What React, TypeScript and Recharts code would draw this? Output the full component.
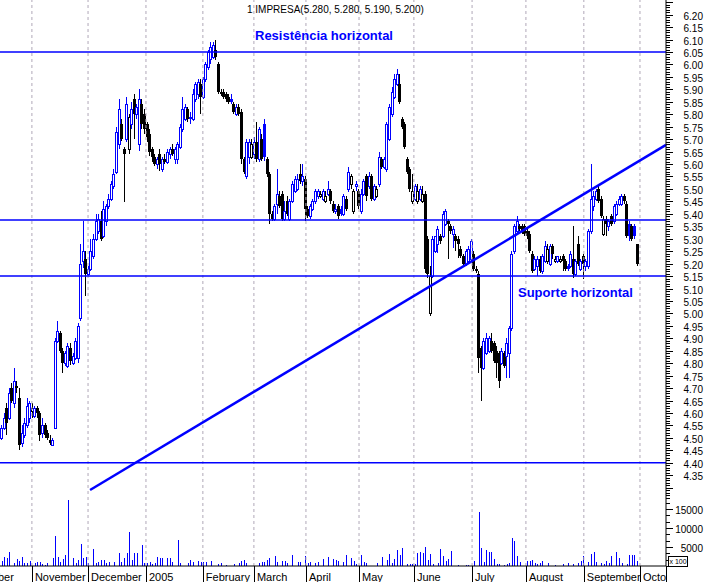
import React from 'react';
import { ComposedChart, Bar, XAxis, YAxis, ReferenceLine } from 'recharts';

// daily candles, [open, high, low, close], Oct 2004 .. Sep 2005
const ohlc: [number, number, number, number][] = [
  [4.50, 4.55, 4.49, 4.54], [4.54, 4.60, 4.53, 4.58], [4.62, 4.64, 4.51, 4.56], [4.58, 4.70, 4.57, 4.68],
  [4.70, 4.72, 4.64, 4.65], [4.64, 4.78, 4.62, 4.73], [4.71, 4.73, 4.68, 4.70], [4.66, 4.70, 4.45, 4.47],
  [4.48, 4.55, 4.46, 4.52], [4.51, 4.58, 4.50, 4.56], [4.55, 4.66, 4.54, 4.63], [4.58, 4.65, 4.56, 4.64],
  [4.61, 4.64, 4.58, 4.62], [4.59, 4.63, 4.58, 4.62], [4.62, 4.63, 4.58, 4.60], [4.60, 4.61, 4.49, 4.51],
  [4.52, 4.58, 4.50, 4.55], [4.55, 4.56, 4.50, 4.51], [4.52, 4.53, 4.49, 4.50], [4.49, 4.51, 4.47, 4.48],
  [4.47, 4.50, 4.47, 4.49], [4.54, 4.90, 4.54, 4.89], [4.89, 4.97, 4.88, 4.93], [4.92, 4.93, 4.84, 4.85],
  [4.85, 4.86, 4.76, 4.80], [4.80, 4.85, 4.79, 4.84], [4.79, 4.88, 4.78, 4.87], [4.86, 4.88, 4.79, 4.81],
  [4.80, 4.84, 4.79, 4.83], [4.82, 4.90, 4.81, 4.89], [4.82, 4.96, 4.80, 4.95], [4.98, 5.28, 4.97, 5.20],
  [5.21, 5.37, 5.18, 5.25], [5.22, 5.25, 5.07, 5.16], [5.16, 5.19, 5.15, 5.18], [5.18, 5.30, 5.17, 5.25],
  [5.23, 5.32, 5.22, 5.30], [5.30, 5.40, 5.29, 5.37], [5.33, 5.40, 5.32, 5.38], [5.37, 5.41, 5.29, 5.30],
  [5.31, 5.45, 5.30, 5.42], [5.37, 5.44, 5.35, 5.43], [5.43, 5.48, 5.42, 5.46], [5.46, 5.53, 5.45, 5.52],
  [5.51, 5.58, 5.50, 5.56], [5.57, 5.75, 5.56, 5.73], [5.68, 5.86, 5.66, 5.82], [5.76, 5.78, 5.69, 5.70],
  [5.66, 5.67, 5.45, 5.64], [5.70, 5.87, 5.69, 5.84], [5.66, 5.80, 5.64, 5.79], [5.76, 5.85, 5.74, 5.82],
  [5.86, 5.88, 5.70, 5.80], [5.80, 5.84, 5.78, 5.83], [5.68, 5.90, 5.65, 5.86], [5.84, 5.86, 5.74, 5.76],
  [5.80, 5.82, 5.72, 5.74], [5.76, 5.77, 5.69, 5.71], [5.72, 5.74, 5.63, 5.65], [5.66, 5.67, 5.61, 5.63],
  [5.63, 5.64, 5.59, 5.60], [5.60, 5.63, 5.58, 5.62], [5.64, 5.66, 5.57, 5.60], [5.58, 5.63, 5.57, 5.62],
  [5.62, 5.64, 5.60, 5.61], [5.61, 5.66, 5.60, 5.65], [5.64, 5.67, 5.62, 5.66], [5.66, 5.68, 5.63, 5.64],
  [5.62, 5.67, 5.60, 5.66], [5.62, 5.69, 5.60, 5.68], [5.67, 5.76, 5.66, 5.75], [5.74, 5.87, 5.73, 5.82],
  [5.78, 5.84, 5.77, 5.83], [5.82, 5.83, 5.77, 5.78], [5.79, 5.81, 5.76, 5.78], [5.78, 5.90, 5.77, 5.88],
  [5.86, 5.93, 5.85, 5.92], [5.88, 5.94, 5.86, 5.93], [5.92, 5.94, 5.80, 5.87], [5.87, 5.95, 5.86, 5.94],
  [5.94, 6.01, 5.93, 6.00], [5.99, 6.06, 5.98, 6.05], [6.02, 6.09, 6.00, 6.07], [6.03, 6.09, 6.02, 6.08],
  [6.06, 6.10, 6.02, 6.03], [6.00, 6.01, 5.88, 5.89], [5.89, 5.90, 5.87, 5.88], [5.89, 5.90, 5.86, 5.87],
  [5.88, 5.89, 5.85, 5.86], [5.87, 5.88, 5.84, 5.85], [5.86, 5.88, 5.84, 5.85], [5.84, 5.85, 5.80, 5.81],
  [5.80, 5.84, 5.79, 5.83], [5.83, 5.84, 5.79, 5.80], [5.81, 5.82, 5.60, 5.62], [5.62, 5.63, 5.56, 5.57],
  [5.55, 5.70, 5.54, 5.69], [5.63, 5.70, 5.60, 5.69], [5.63, 5.70, 5.62, 5.68], [5.64, 5.71, 5.62, 5.69],
  [5.69, 5.77, 5.61, 5.62], [5.62, 5.75, 5.61, 5.74], [5.70, 5.72, 5.61, 5.62], [5.76, 5.78, 5.61, 5.63],
  [5.62, 5.63, 5.55, 5.56], [5.56, 5.57, 5.36, 5.40], [5.40, 5.41, 5.37, 5.38], [5.38, 5.44, 5.37, 5.43],
  [5.44, 5.58, 5.40, 5.48], [5.47, 5.49, 5.42, 5.43], [5.48, 5.49, 5.37, 5.38], [5.38, 5.45, 5.37, 5.41],
  [5.45, 5.47, 5.39, 5.40], [5.38, 5.46, 5.37, 5.45], [5.45, 5.53, 5.44, 5.52], [5.49, 5.55, 5.48, 5.54],
  [5.50, 5.56, 5.49, 5.54], [5.56, 5.60, 5.52, 5.53], [5.53, 5.60, 5.51, 5.55], [5.54, 5.55, 5.37, 5.42],
  [5.42, 5.43, 5.38, 5.39], [5.39, 5.44, 5.38, 5.43], [5.42, 5.46, 5.41, 5.45], [5.45, 5.50, 5.44, 5.49],
  [5.47, 5.50, 5.46, 5.49], [5.47, 5.49, 5.46, 5.48], [5.46, 5.50, 5.45, 5.49], [5.45, 5.49, 5.44, 5.47],
  [5.48, 5.53, 5.47, 5.50], [5.49, 5.50, 5.44, 5.45], [5.44, 5.45, 5.40, 5.41], [5.41, 5.44, 5.40, 5.42],
  [5.43, 5.44, 5.38, 5.39], [5.42, 5.43, 5.39, 5.40], [5.40, 5.48, 5.39, 5.47], [5.46, 5.47, 5.41, 5.42],
  [5.50, 5.59, 5.49, 5.57], [5.52, 5.56, 5.50, 5.55], [5.41, 5.50, 5.40, 5.49], [5.51, 5.53, 5.49, 5.52],
  [5.49, 5.50, 5.42, 5.43], [5.41, 5.50, 5.40, 5.48], [5.48, 5.54, 5.47, 5.53], [5.55, 5.56, 5.45, 5.47],
  [5.51, 5.57, 5.50, 5.55], [5.55, 5.56, 5.45, 5.46], [5.46, 5.52, 5.45, 5.51], [5.47, 5.51, 5.46, 5.50],
  [5.52, 5.65, 5.51, 5.63], [5.62, 5.63, 5.58, 5.59], [5.59, 5.63, 5.58, 5.62], [5.58, 5.77, 5.57, 5.76],
  [5.70, 5.84, 5.69, 5.83], [5.80, 5.91, 5.79, 5.89], [5.87, 5.96, 5.86, 5.94], [5.92, 5.98, 5.91, 5.96],
  [5.92, 5.96, 5.84, 5.85], [5.78, 5.79, 5.74, 5.75], [5.76, 5.77, 5.66, 5.67], [5.62, 5.63, 5.56, 5.57],
  [5.58, 5.59, 5.49, 5.50], [5.45, 5.56, 5.44, 5.49], [5.46, 5.52, 5.45, 5.51], [5.45, 5.52, 5.44, 5.49],
  [5.46, 5.51, 5.45, 5.50], [5.45, 5.51, 5.44, 5.48], [5.48, 5.49, 5.16, 5.18], [5.30, 5.31, 5.14, 5.16],
  [5.00, 5.19, 4.99, 5.15], [5.15, 5.31, 5.14, 5.30], [5.25, 5.31, 5.24, 5.31], [5.28, 5.35, 5.24, 5.34],
  [5.31, 5.32, 5.28, 5.29], [5.31, 5.41, 5.30, 5.40], [5.36, 5.42, 5.35, 5.41], [5.37, 5.38, 5.22, 5.36],
  [5.35, 5.36, 5.32, 5.33], [5.32, 5.35, 5.26, 5.34], [5.31, 5.32, 5.25, 5.29], [5.30, 5.31, 5.22, 5.28],
  [5.26, 5.27, 5.22, 5.23], [5.23, 5.24, 5.19, 5.20], [5.20, 5.26, 5.19, 5.25], [5.21, 5.27, 5.20, 5.26],
  [5.22, 5.30, 5.21, 5.29], [5.24, 5.25, 5.17, 5.18], [5.18, 5.19, 5.16, 5.17], [5.16, 5.17, 4.76, 4.82],
  [4.86, 4.87, 4.65, 4.78], [4.78, 4.90, 4.77, 4.89], [4.84, 4.92, 4.83, 4.90], [4.85, 4.91, 4.84, 4.90],
  [4.89, 4.92, 4.84, 4.85], [4.88, 4.89, 4.80, 4.81], [4.85, 4.87, 4.74, 4.80], [4.84, 4.85, 4.70, 4.73],
  [4.80, 4.86, 4.79, 4.85], [4.84, 4.85, 4.78, 4.79], [4.83, 4.90, 4.74, 4.88], [4.84, 4.95, 4.74, 4.94],
  [4.94, 5.25, 4.93, 5.24], [5.25, 5.36, 5.24, 5.35], [5.33, 5.39, 5.32, 5.37], [5.35, 5.36, 5.33, 5.34],
  [5.35, 5.36, 5.32, 5.33], [5.35, 5.36, 5.31, 5.32], [5.33, 5.34, 5.30, 5.31], [5.32, 5.33, 5.24, 5.25],
  [5.24, 5.25, 5.16, 5.17], [5.18, 5.23, 5.17, 5.22], [5.19, 5.23, 5.15, 5.22], [5.22, 5.23, 5.16, 5.17],
  [5.17, 5.24, 5.16, 5.23], [5.21, 5.29, 5.20, 5.27], [5.21, 5.28, 5.20, 5.26], [5.20, 5.28, 5.19, 5.27],
  [5.27, 5.28, 5.22, 5.24], [5.21, 5.23, 5.20, 5.22], [5.21, 5.23, 5.20, 5.23], [5.21, 5.23, 5.20, 5.22],
  [5.23, 5.24, 5.17, 5.21], [5.21, 5.22, 5.17, 5.18], [5.19, 5.20, 5.17, 5.18], [5.19, 5.25, 5.18, 5.24],
  [5.22, 5.35, 5.14, 5.16], [5.16, 5.22, 5.15, 5.21], [5.28, 5.31, 5.19, 5.20], [5.18, 5.22, 5.17, 5.21],
  [5.23, 5.24, 5.14, 5.20], [5.19, 5.22, 5.17, 5.21], [5.19, 5.34, 5.18, 5.33], [5.33, 5.60, 5.32, 5.46],
  [5.43, 5.49, 5.41, 5.47], [5.46, 5.50, 5.45, 5.49], [5.50, 5.51, 5.44, 5.45], [5.46, 5.47, 5.38, 5.39],
  [5.32, 5.39, 5.31, 5.38], [5.38, 5.39, 5.31, 5.36], [5.35, 5.38, 5.33, 5.37], [5.39, 5.40, 5.35, 5.36],
  [5.37, 5.44, 5.36, 5.43], [5.40, 5.45, 5.39, 5.44], [5.44, 5.47, 5.43, 5.46], [5.44, 5.48, 5.43, 5.47],
  [5.47, 5.48, 5.44, 5.45], [5.44, 5.45, 5.30, 5.31], [5.36, 5.37, 5.29, 5.31], [5.35, 5.36, 5.29, 5.30],
  [5.35, 5.36, 5.30, 5.31], [5.28, 5.28, 5.19, 5.20],
];

// volume in hundreds of shares
const volumes = [
  1400, 2300, 2000, 3700, 0, 900, 1750, 1400, 2500, 880, 700, 1300, 0, 880, 1140, 1000, 530, 260, 700, 0,
  2000, 7900, 2500, 1140, 1750, 2900, 18000, 0, 2000, 700, 1580, 5800, 2000, 2300, 700, 0, 4500, 700, 1140, 1580,
  1580, 700, 1140, 0, 1050, 0, 3300, 1140, 2000, 3300, 8900, 1580, 3300, 3300, 0, 5500, 700, 700, 960, 530,
  700, 2500, 2000, 2000, 0, 2000, 2000, 1140, 0, 6800, 700, 0, 0, 700, 1580, 1140, 0, 1300, 1140, 960,
  1140, 0, 1300, 0, 0, 440, 700, 0, 260, 0, 0, 530, 0, 880, 1300, 1580, 880, 0, 0, 0,
  0, 880, 1140, 960, 1580, 2000, 0, 2600, 1140, 0, 1300, 1300, 880, 0, 2900, 0, 1140, 1140, 0, 2600,
  880, 1140, 0, 880, 1140, 0, 1750, 0, 2500, 0, 1750, 1580, 1400, 0, 1140, 2900, 0, 2000, 1300, 600,
  0, 2900, 1140, 700, 0, 0, 0, 880, 0, 2300, 0, 1580, 3200, 700, 1850, 4200, 2900, 4800, 0, 530,
  530, 530, 440, 3500, 3800, 3500, 5100, 1580, 3200, 530, 0, 880, 4500, 2700, 1300, 1750, 3900, 0, 0, 260,
  0, 0, 260, 260, 0, 1400, 0, 14300, 4800, 1140, 4200, 3800, 3800, 1750, 440, 440, 0, 260, 440, 880,
  7400, 6600, 2600, 1140, 0, 0, 1400, 1300, 1580, 700, 530, 880, 1400, 0, 700, 0, 0, 350, 0, 0,
  530, 0, 700, 0, 530, 0, 880, 1400, 2600, 0, 1140, 3200, 3700, 1140, 0, 700, 530, 1300, 880, 2600,
  0, 3700, 2000, 700, 0, 530, 2900, 2900, 2900, 1300,
];

// month boundaries in bar units, and their labels
const monthStarts = [12, 34, 56.7, 79, 99, 119.4, 140.2, 161.7, 184.5, 205.6, 228.3, 250.3];
const monthLabels = ['November', 'December', '2005', 'February', 'March', 'April', 'May', 'June', 'July', 'August', 'September', 'October'];

const priceLabels = [
  6.20, 6.15, 6.10, 6.05, 6.00, 5.95, 5.90, 5.85, 5.80, 5.75, 5.70, 5.65, 5.60, 5.55, 5.50, 5.45, 5.40, 5.35, 5.30,
  5.25, 5.20, 5.15, 5.10, 5.05, 5.00, 4.95, 4.90, 4.85, 4.80, 4.75, 4.70, 4.65, 4.60, 4.55, 4.50, 4.45, 4.40, 4.35,
];
const volumeLabels = [5000, 10000, 15000];

// drawn support / resistance levels and the rising trend line
const levels = [6.05, 5.375, 5.15, 4.40];
const trendLine = [{ x: 34.8, y: 4.291 }, { x: 260.5, y: 5.677 }];

const PMIN = 4.2508;
const PMAX = 6.2588;
const VMAX = 17370;
const XDOMAIN: [number, number] = [-0.5, 260.5];
const PLOT_RIGHT = 666;
const BLUE = '#0000ff';
const GRID = '#b0a8b8';
const FONT = '"Liberation Sans", Arial, sans-serif';

const bars = ohlc.map(([o, h, l, c], i) => ({
  i, o, h, l, c,
  prev: i > 0 ? ohlc[i - 1][3] : o,
  vol: volumes[i],
}));

const priceTicks: number[] = [];
for (let k = 426; k <= 625; k++) priceTicks.push(k / 100);
const volumeTicks: number[] = [];
for (let k = 0; k <= 10; k++) volumeTicks.push((k * 5000) / 3);

const Candle = (props: any) => {
  const { x, y, width, height, payload } = props;
  if (!payload || x == null) return null;
  const { o, h, l, c, prev } = payload;
  const top = Math.min(y, y + height);
  const span = Math.abs(height);
  const k = h > l ? span / (h - l) : 0;
  const py = (v: number) => top + (h - v) * k;
  const cx = Math.round(x + width / 2);
  const color = c >= prev ? BLUE : '#000';
  const bodyTop = Math.round(py(Math.max(o, c)));
  const bodyBot = Math.round(py(Math.min(o, c)));
  const hollow = c >= o;
  return (
    <g shapeRendering="crispEdges">
      <rect x={cx} y={Math.round(top)} width={1} height={Math.max(1, Math.round(span))} fill={color} />
      {hollow ? (
        <rect x={cx - 0.5} y={bodyTop + 0.5} width={2} height={Math.max(1, bodyBot - bodyTop)} fill="#fff" stroke={color} strokeWidth={1} />
      ) : (
        <rect x={cx - 1} y={bodyTop} width={3} height={Math.max(1, bodyBot - bodyTop)} fill={color} />
      )}
    </g>
  );
};

const VolumeBar = (props: any) => {
  const { x, y, width, height } = props;
  if (!height || height <= 0) return null;
  const cx = Math.round(x + width / 2);
  return <rect x={cx} y={y} width={1} height={height} fill={BLUE} shapeRendering="crispEdges" />;
};

const PriceTick = (props: any) => {
  const { y, payload } = props;
  const v = payload.value;
  const yy = Math.round(y) + 0.5;
  const major = Math.abs(v * 20 - Math.round(v * 20)) < 1e-6;
  const labeled = priceLabels.some((p) => Math.abs(p - v) < 1e-6);
  return (
    <g>
      <line x1={PLOT_RIGHT} x2={PLOT_RIGHT + (major ? 7 : 4)} y1={yy} y2={yy} stroke="#000" />
      {labeled && (
        <text x={703} y={y + 5} textAnchor="end" fontSize={10} fontFamily={FONT} fill="#000">
          {v.toFixed(2)}
        </text>
      )}
    </g>
  );
};

const VolumeTick = (props: any) => {
  const { y, payload } = props;
  const v = payload.value;
  const yy = Math.round(y) + 0.5;
  const labeled = volumeLabels.includes(Math.round(v));
  return (
    <g>
      <line x1={PLOT_RIGHT} x2={PLOT_RIGHT + (labeled ? 7 : 4)} y1={yy} y2={yy} stroke="#000" />
      {labeled && (
        <text x={703} y={y + 5} textAnchor="end" fontSize={10} fontFamily={FONT} fill="#000">
          {Math.round(v)}
        </text>
      )}
    </g>
  );
};

const MonthTick = (props: any) => {
  const { x, index } = props;
  const xx = Math.round(x) + 0.5;
  return (
    <g>
      <line x1={xx} x2={xx} y1={66} y2={82} stroke="#000" />
      <svg x={0} y={0} width={PLOT_RIGHT} height={82}>
        <text x={x + 3} y={81} fontSize={11} fontFamily={FONT} fill="#000">
          {monthLabels[index]}
        </text>
        {index === 0 && (
          <text x={x - 18} y={81} textAnchor="end" fontSize={11} fontFamily={FONT} fill="#000">
            October
          </text>
        )}
      </svg>
    </g>
  );
};

export default function App() {
  return (
    <div style={{ position: 'absolute', left: 0, top: 0, width: 707, height: 582, background: '#fff', overflow: 'hidden' }}>
      <div style={{ position: 'absolute', left: 0, top: 0 }}>
        <ComposedChart width={707} height={500} data={bars} margin={{ top: 0, right: 0, bottom: 0, left: 0 }}>
          <XAxis type="number" dataKey="i" domain={XDOMAIN} hide allowDataOverflow />
          <YAxis
            orientation="right"
            type="number"
            domain={[PMIN, PMAX]}
            ticks={priceTicks}
            interval={0}
            width={41}
            allowDataOverflow
            axisLine={{ stroke: '#000' }}
            tickLine={false}
            tick={<PriceTick />}
          />
          {monthStarts.map((m) => (
            <ReferenceLine key={m} x={m} stroke={GRID} strokeDasharray="3 3" />
          ))}
          <Bar dataKey={(d: any) => [d.l, d.h]} barSize={3} shape={<Candle />} isAnimationActive={false} />
          {levels.map((v) => (
            <ReferenceLine key={v} y={v} stroke={BLUE} strokeWidth={1.5} />
          ))}
          <ReferenceLine segment={trendLine} stroke={BLUE} strokeWidth={2.5} />
        </ComposedChart>
      </div>
      <div style={{ position: 'absolute', left: 0, top: 500 }}>
        <ComposedChart width={707} height={82} data={bars} margin={{ top: 0, right: 0, bottom: 0, left: 0 }}>
          <XAxis
            type="number"
            dataKey="i"
            domain={XDOMAIN}
            allowDataOverflow
            ticks={monthStarts}
            interval={0}
            height={16}
            axisLine={{ stroke: '#000' }}
            tickLine={false}
            tick={<MonthTick />}
          />
          <YAxis
            orientation="right"
            type="number"
            domain={[0, VMAX]}
            ticks={volumeTicks}
            interval={0}
            width={41}
            allowDataOverflow
            axisLine={{ stroke: '#000' }}
            tickLine={false}
            tick={<VolumeTick />}
          />
          {monthStarts.map((m) => (
            <ReferenceLine key={m} x={m} stroke={GRID} strokeDasharray="3 3" />
          ))}
          <Bar dataKey="vol" barSize={1} shape={<VolumeBar />} isAnimationActive={false} />
        </ComposedChart>
      </div>
      <div style={{ position: 'absolute', left: PLOT_RIGHT, top: 566, width: 1, height: 16, background: '#000' }} />
      <div
        style={{
          position: 'absolute', left: 668, top: 556, width: 18, height: 9, border: '1px solid #000',
          fontFamily: FONT, fontSize: 7, lineHeight: '9px', textAlign: 'center', background: '#fff',
        }}
      >
        x 100
      </div>
      <div style={{ position: 'absolute', left: 247, top: 4, fontFamily: FONT, fontSize: 10, lineHeight: '12px', whiteSpace: 'nowrap' }}>
        1 IMPRESA(5.280, 5.280, 5.190, 5.200)
      </div>
      <div style={{ position: 'absolute', left: 255, top: 28, fontFamily: FONT, fontSize: 13, fontWeight: 'bold', lineHeight: '15px', color: BLUE, whiteSpace: 'nowrap' }}>
        Resistência horizontal
      </div>
      <div style={{ position: 'absolute', left: 518, top: 285, fontFamily: FONT, fontSize: 13, fontWeight: 'bold', lineHeight: '15px', color: BLUE, whiteSpace: 'nowrap' }}>
        Suporte horizontal
      </div>
    </div>
  );
}
